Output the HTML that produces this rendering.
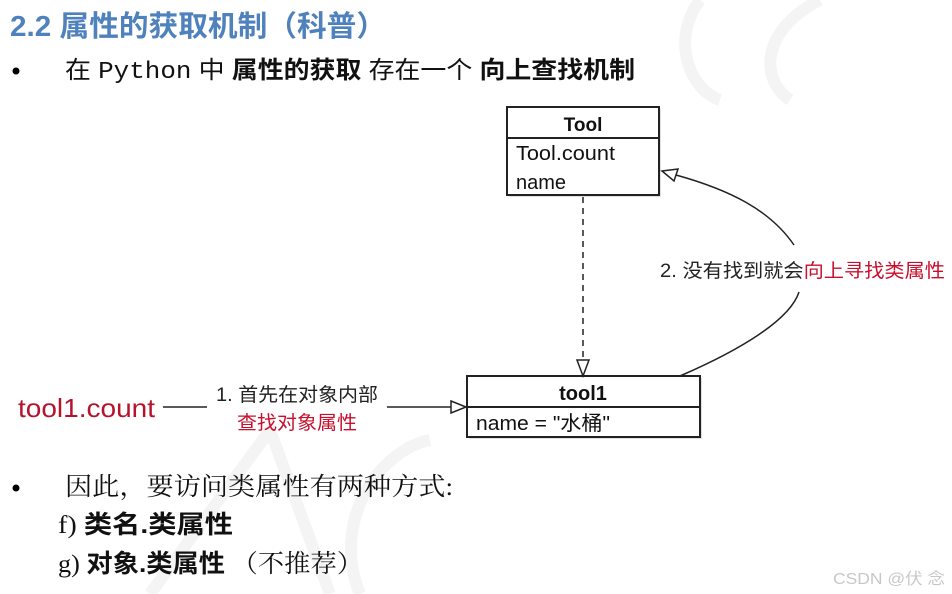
<!DOCTYPE html>
<html><head><meta charset="utf-8"><style>
body{margin:0;background:#fff;}
svg{display:block}
text{font-family:"Liberation Sans","Noto Sans CJK SC",sans-serif;}
.s{font-family:"Liberation Serif","Noto Serif CJK SC",serif;}
</style></head><body>
<svg width="952" height="594" viewBox="0 0 952 594" xmlns="http://www.w3.org/2000/svg">
<g fill="none" stroke="#f4f4f4" stroke-width="12">
<path d="M700 0 C670 40 690 90 720 100"/>
<path d="M820 0 C760 30 760 80 790 100"/>
<path d="M150 594 L270 430 L330 594"/>
<path d="M360 594 C330 520 380 450 430 440"/>
</g>
<text x="10" y="36" font-size="29" font-weight="bold" fill="#4f81bd" textLength="376" lengthAdjust="spacingAndGlyphs">2.2 属性的获取机制（科普）</text>
<circle cx="16" cy="71" r="3.5" fill="#000"/>
<text x="65" y="78" font-size="24" fill="#111" textLength="570" lengthAdjust="spacingAndGlyphs">在 <tspan font-family="Liberation Mono,monospace">Python</tspan> 中 <tspan font-weight="bold">属性的获取</tspan> 存在一个 <tspan font-weight="bold">向上查找机制</tspan></text>

<!-- Tool box -->
<rect x="509" y="109" width="152" height="88" fill="#ccc" opacity="0.6"/>
<rect x="507" y="107" width="152" height="88" fill="#fff" stroke="#222" stroke-width="2"/>
<line x1="507" y1="138" x2="659" y2="138" stroke="#222" stroke-width="2"/>
<text x="583" y="131" font-size="19" font-weight="bold" text-anchor="middle" fill="#111">Tool</text>
<text x="516" y="160" font-size="20" fill="#111" textLength="99" lengthAdjust="spacingAndGlyphs">Tool.count</text>
<text x="516" y="189" font-size="20" fill="#111">name</text>

<!-- tool1 box -->
<rect x="469" y="378" width="233" height="61" fill="#ccc" opacity="0.6"/>
<rect x="467" y="376" width="233" height="61" fill="#fff" stroke="#222" stroke-width="2"/>
<line x1="467" y1="407" x2="700" y2="407" stroke="#222" stroke-width="2"/>
<text x="583" y="400" font-size="20" font-weight="bold" text-anchor="middle" fill="#111">tool1</text>
<text x="476" y="430" font-size="20" fill="#111" textLength="134" lengthAdjust="spacingAndGlyphs">name = "水桶"</text>

<!-- dashed -->
<line x1="583" y1="197" x2="583" y2="362" stroke="#222" stroke-width="1.5" stroke-dasharray="6,5"/>
<path d="M577 360 L589 360 L583 376 Z" fill="#fff" stroke="#222" stroke-width="1.5"/>

<!-- curves -->
<path d="M680 376 C740 350 790 320 799 292" fill="none" stroke="#222" stroke-width="1.5"/>
<path d="M794 245 C770 210 730 190 676 175" fill="none" stroke="#222" stroke-width="1.5"/>
<path d="M662 171 L678 169 L674 181 Z" fill="#fff" stroke="#222" stroke-width="1.5"/>
<text x="660" y="277" font-size="19" fill="#222" textLength="285" lengthAdjust="spacingAndGlyphs">2. 没有找到就会<tspan fill="#c8102e">向上寻找类属性</tspan></text>

<!-- left arrow -->
<text x="18" y="417" font-size="26" fill="#b5122e" textLength="137" lengthAdjust="spacingAndGlyphs">tool1.count</text>
<line x1="163" y1="407" x2="207" y2="407" stroke="#222" stroke-width="1.5"/>
<text x="216" y="401" font-size="19" fill="#222" textLength="162" lengthAdjust="spacingAndGlyphs">1. 首先在对象内部</text>
<text x="237" y="429" font-size="19" fill="#c8102e" textLength="120" lengthAdjust="spacingAndGlyphs">查找对象属性</text>
<line x1="387" y1="407" x2="452" y2="407" stroke="#222" stroke-width="1.5"/>
<path d="M451 401 L466 407 L451 413 Z" fill="#fff" stroke="#222" stroke-width="1.5"/>

<!-- bottom -->
<circle cx="16" cy="488" r="3.5" fill="#000"/>
<text x="65" y="495" font-size="25" fill="#111" class="s" textLength="388" lengthAdjust="spacingAndGlyphs">因此，要访问类属性有两种方式:</text>
<text x="58" y="533" font-size="25" fill="#111" class="s" textLength="175" lengthAdjust="spacingAndGlyphs">f)  <tspan font-weight="bold" font-family="Liberation Sans,Noto Sans CJK SC,sans-serif">类名.类属性</tspan></text>
<text x="58" y="572" font-size="25" fill="#111" class="s" textLength="305" lengthAdjust="spacingAndGlyphs">g) <tspan font-weight="bold" font-family="Liberation Sans,Noto Sans CJK SC,sans-serif">对象.类属性</tspan> （不推荐）</text>
<text x="833" y="584" font-size="16" fill="#c8c8c8" textLength="112" lengthAdjust="spacingAndGlyphs">CSDN @伏 念</text>
</svg>
</body></html>
